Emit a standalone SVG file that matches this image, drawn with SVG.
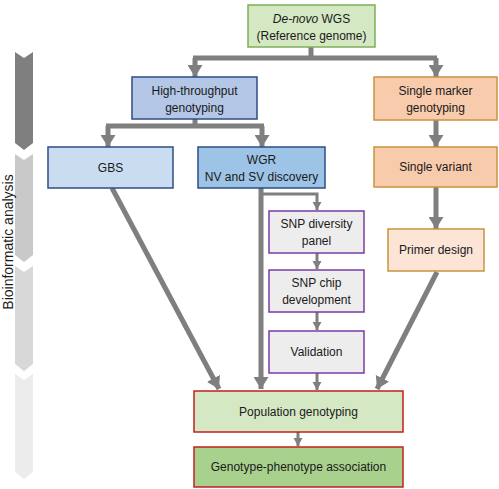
<svg xmlns="http://www.w3.org/2000/svg" width="499" height="489" viewBox="0 0 499 489">
<defs>
<style>
text{font-family:"Liberation Sans",Arial,sans-serif;font-size:12px;fill:#1a1a1a;text-anchor:middle}
.c{fill:none;stroke:#7f7f7f;stroke-width:5}
.cs{fill:none;stroke:#7f7f7f;stroke-width:3}
.green{fill:#d5e8c4;stroke:#7fae57;stroke-width:1.5}
.blue{stroke:#2f4c86;stroke-width:1.5}
.orange{stroke:#c8943f;stroke-width:1.5}
.purple{fill:#ededed;stroke:#7a3aa8;stroke-width:1.5}
.red{stroke:#c21f1f;stroke-width:1.5}
</style>
<marker id="ah" markerUnits="userSpaceOnUse" markerWidth="14" markerHeight="15" viewBox="0 0 14 15" refX="12" refY="7.5" orient="auto">
<path d="M0,0 L12,7.5 L0,15 Z" fill="#7f7f7f"/>
</marker>
<marker id="as" markerUnits="userSpaceOnUse" markerWidth="10" markerHeight="10" viewBox="0 0 10 10" refX="8" refY="5" orient="auto">
<path d="M0,0.5 L8,5 L0,9.5 Z" fill="#7f7f7f"/>
</marker>
</defs>
<rect width="499" height="489" fill="#ffffff"/>

<g id="side">
<polygon points="15,52 24,58 33,52 33,143 24,150 15,143" fill="#7f7f7f"/>
<polygon points="15,154 24,160 33,154 33,255 24,262 15,255" fill="#c9c9c9"/>
<polygon points="15,266 24,272 33,266 33,364 24,371 15,364" fill="#d8d8d8"/>
<polygon points="15,374 24,380 33,374 33,472 24,479 15,472" fill="#ececec"/>
<text transform="translate(12.5,242) rotate(-90)" style="font-size:14px">Bioinformatic analysis</text>
</g>

<g id="connectors">
<path class="c" d="M311,47 V58"/>
<path class="c" d="M193,58 H437"/>
<path class="c" d="M195,58 V77" marker-end="url(#ah)"/>
<path class="c" d="M436,58 V77" marker-end="url(#ah)"/>
<path class="c" d="M195,119 V126"/>
<path class="c" d="M106,126 H264"/>
<path class="c" d="M108,126 V147" marker-end="url(#ah)"/>
<path class="c" d="M262,126 V147" marker-end="url(#ah)"/>
<path class="c" d="M436,120 V147" marker-end="url(#ah)"/>
<path class="c" d="M436,187 V229" marker-end="url(#ah)"/>
<path class="c" d="M261,188 V389" marker-end="url(#ah)"/>
<path class="cs" d="M261,194 H317 V210" marker-end="url(#as)"/>
<path class="cs" d="M317,252 V269" marker-end="url(#as)"/>
<path class="cs" d="M317,312 V330" marker-end="url(#as)"/>
<path class="cs" d="M317,373 V390" marker-end="url(#as)"/>
<path class="c" d="M112,188 L219,389" marker-end="url(#ah)"/>
<path class="c" d="M437,272 L377,389" marker-end="url(#ah)"/>
<path class="cs" d="M298,432 V446" marker-end="url(#as)"/>
</g>

<g id="wgs">
<rect class="green" x="248" y="5" width="127" height="42"/>
<text x="311.5" y="23"><tspan font-style="italic">De-novo</tspan> WGS</text>
<text x="311.5" y="40">(Reference genome)</text>
</g>

<g id="htg">
<rect class="blue" x="132" y="77" width="125" height="42" fill="#b4c7e7"/>
<text x="194.5" y="95">High-throughput</text>
<text x="194.5" y="112">genotyping</text>
</g>

<g id="smg">
<rect class="orange" x="374" y="77" width="123" height="43" fill="#f8cbad"/>
<text x="435.5" y="95">Single marker</text>
<text x="435.5" y="112">genotyping</text>
</g>

<g id="gbs">
<rect class="blue" x="48" y="147" width="125" height="41" fill="#c9dcf0"/>
<text x="110.5" y="172">GBS</text>
</g>

<g id="wgr">
<rect class="blue" x="198" y="147" width="127" height="41" fill="#9dc3e6"/>
<text x="261.5" y="164">WGR</text>
<text x="261.5" y="181">NV and SV discovery</text>
</g>

<g id="sv">
<rect class="orange" x="374" y="147" width="123" height="40" fill="#f8cbad"/>
<text x="435.5" y="171">Single variant</text>
</g>

<g id="primer">
<rect class="orange" x="388" y="229" width="96" height="42" fill="#fce4d6"/>
<text x="436" y="254">Primer design</text>
</g>

<g id="snpdiv">
<rect class="purple" x="269" y="211" width="95" height="42"/>
<text x="316.5" y="228">SNP diversity</text>
<text x="316.5" y="245">panel</text>
</g>

<g id="snpchip">
<rect class="purple" x="269" y="270" width="95" height="42"/>
<text x="316.5" y="287">SNP chip</text>
<text x="316.5" y="304">development</text>
</g>

<g id="validation">
<rect class="purple" x="269" y="331" width="95" height="42"/>
<text x="316.5" y="356">Validation</text>
</g>

<g id="popgen">
<rect class="red" x="194" y="391" width="209" height="41" fill="#d5e8c4"/>
<text x="298.5" y="416">Population genotyping</text>
</g>

<g id="gpa">
<rect class="red" x="194" y="447" width="209" height="40" fill="#a9d18e"/>
<text x="298.5" y="471">Genotype-phenotype association</text>
</g>
</svg>
